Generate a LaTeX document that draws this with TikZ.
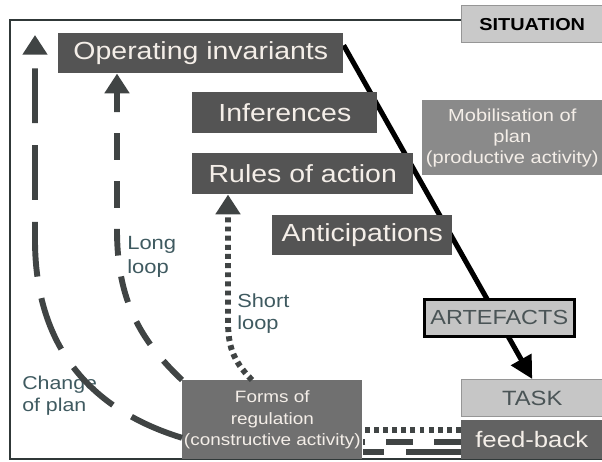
\documentclass[tikz,border=0pt]{standalone}
\usepackage{fontspec}
\setmainfont{Liberation Sans}[FakeStretch=1.15]
\usepackage{tikz}
\usetikzlibrary{arrows.meta}
\usetikzlibrary{calc}
\usetikzlibrary{backgrounds}

\definecolor{boxdark}{RGB}{84,84,84}
\definecolor{boxtext}{RGB}{244,238,232}
\definecolor{formsfill}{RGB}{112,112,112}
\definecolor{mobfill}{RGB}{138,138,138}
\definecolor{fbfill}{RGB}{98,98,98}
\definecolor{taskfill}{RGB}{198,198,198}
\definecolor{taskdraw}{RGB}{150,150,150}
\definecolor{sitfill}{RGB}{201,201,201}
\definecolor{artfill}{RGB}{196,196,196}
\definecolor{artext}{RGB}{74,84,86}
\definecolor{labeltext}{RGB}{63,90,96}
\definecolor{loopgray}{RGB}{64,68,68}
\definecolor{framegray}{RGB}{48,56,56}

\begin{document}
\begin{tikzpicture}[x=0.025cm, y=-0.025cm,
	box/.style={anchor=north west, inner sep=0pt, align=center, text=boxtext},
	darkbox/.style={box, fill=boxdark, font=\fontsize{17.6}{20}\selectfont},
	looplabel/.style={anchor=north west, inner sep=0pt, align=left, text=labeltext},
	loopline/.style={line width=4.2pt, draw=loopgray},
	changeplan/.style={loopline, dash pattern=on 39pt off 15.6pt},
	longloop/.style={loopline, dash pattern=on 19pt off 15pt},
	shortloop/.style={loopline, dash pattern=on 3.5pt off 3pt},
	looptip/.style={-{Triangle[width=17pt,length=14pt]}}]
	\useasboundingbox (0,0) rectangle (602,461);
	
	\draw[line width=1.4pt, color=framegray] (461,20) -- (10,20) -- (10,459) -- (602,459);
	
	\node[box, fill=sitfill, draw=taskdraw, line width=1pt, text=black, minimum width=3.525cm, minimum height=0.925cm, font=\bfseries\fontsize{12.3}{14}\selectfont] (sit) at (461,5) {SITUATION};
	
	\node[darkbox, minimum width=7.125cm, minimum height=1cm] (opinv) at (58,33) {Operating invariants};
	\node[darkbox, minimum width=4.625cm, minimum height=1.025cm] (inf) at (192,92) {Inferences};
	\node[darkbox, minimum width=5.525cm, minimum height=1.025cm] (rules) at (192,153) {Rules of action};
	\node[darkbox, minimum width=4.5cm, minimum height=1cm] (antic) at (272,215) {Anticipations};
	
	\node[box, fill=mobfill, minimum width=4.5cm, minimum height=1.875cm, font=\fontsize{12.4}{15}\selectfont] (mobil) at (422,100) {Mobilisation of\\plan\\(productive activity)};
	\node[box, fill=artfill, draw=black, line width=1.8pt, text=artext, minimum width=3.75cm, minimum height=0.925cm, font=\fontsize{14.5}{16}\selectfont] (art) at (423,298) {ARTEFACTS};
	\node[box, fill=taskfill, draw=taskdraw, line width=1pt, text=artext, minimum width=3.525cm, minimum height=0.925cm, font=\fontsize{14.7}{16}\selectfont] (task) at (461,379) {TASK};
	\node[box, fill=fbfill, minimum width=3.525cm, minimum height=0.975cm, font=\fontsize{15.9}{18}\selectfont] (fb) at (461,420) {feed-back};
	\node[box, fill=formsfill, minimum width=4.5cm, minimum height=1.975cm, font=\fontsize{11.7}{15.6}\selectfont] (forms) at (182,380) {Forms of\\regulation\\(constructive activity)};
	
	\node[looplabel, font=\fontsize{13.6}{17}\selectfont] (longl) at (127,236) {Long\\loop};
	\node[looplabel, font=\fontsize{13.5}{16}\selectfont] (shortl) at (237,293) {Short\\loop};
	\node[looplabel, font=\fontsize{13.2}{15.6}\selectfont] (changel) at (22,376) {Change\\of plan};
	
	\coordinate (cptop) at (35,35);
	
	% productive activity
	\begin{scope}[on background layer]
		\draw[line width=3.6pt, -{Triangle[width=16pt,length=16pt]}] ($(opinv.east)+(0,-8)$) -- (task.north);
	\end{scope}
	
	% regulation loops
	\draw[changeplan, looptip] ($(forms.west)+(0,18)$) .. controls (75,405) and (35,330) .. (35,240) -- (cptop);
	\draw[longloop, looptip] (forms.north west) .. controls (140,340) and (117,300) .. (117,230) -- ($(opinv.south west)+(59,0)$);
	\draw[shortloop, looptip] ($(forms.north west)+(70,0)$) .. controls (232,360) and (228,345) .. (228,320) -- ($(rules.south west)+(36,0)$);
	
	\draw[shortloop] ($(fb.west)+(0,-9.5)$) -- ($(fb.west -| forms.east)+(0,-9.5)$);
	\draw[longloop] ($(fb.west)+(0,2.5)$) -- ($(fb.west -| forms.east)+(0,2.5)$);
	\draw[changeplan] ($(fb.west)+(0,12.5)$) -- ($(fb.west -| forms.east)+(0,12.5)$);
\end{tikzpicture}
\end{document}
